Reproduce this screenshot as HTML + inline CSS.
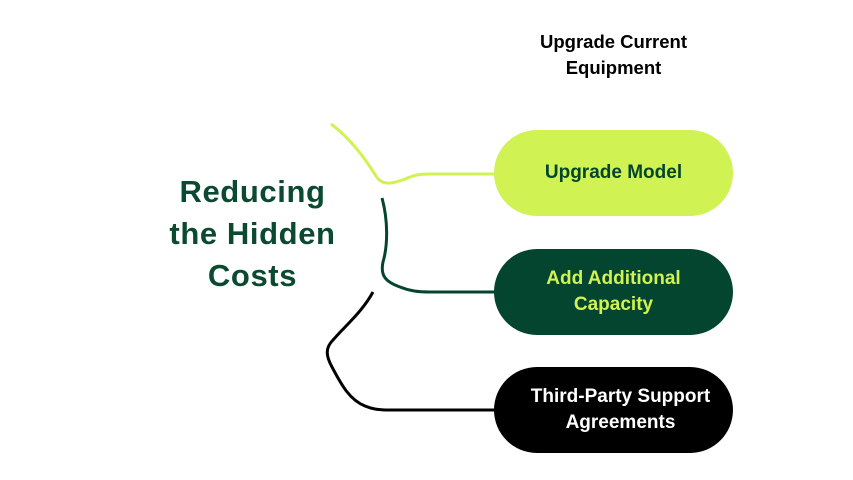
<!DOCTYPE html>
<html><head><style>
html,body{margin:0;padding:0;background:#fff;}
body{width:853px;height:480px;position:relative;overflow:hidden;font-family:"Liberation Sans",sans-serif;font-weight:bold;}
.t{position:absolute;text-align:center;}
.pill{position:absolute;left:494px;width:239px;height:86px;border-radius:43px;display:flex;align-items:center;justify-content:center;text-align:center;font-size:19px;line-height:26px;}
</style></head><body>
<svg width="853" height="480" style="position:absolute;left:0;top:0">
<path d="M331,124 C350,138 366,160 376,176 C382,186 392,184 405,179 C414,175 420,174 430,174 L496,174" fill="none" stroke="#d0f252" stroke-width="3"/>
<path d="M382,198 C388,220 388,245 383,262 C380,276 386,282 400,287 C410,291 418,292 430,292 L496,292" fill="none" stroke="#03452f" stroke-width="3"/>
<path d="M373,292 C362,312 346,325 333,340 C325,348 326,356 332,367 C342,386 350,400 365,406 C372,409 378,410 390,410 L496,410" fill="none" stroke="#000" stroke-width="3"/>
</svg>
<div class="t" style="left:130px;width:245px;top:171px;font-size:31px;line-height:42px;letter-spacing:0.6px;color:#0b4a30;">Reducing<br>the Hidden<br>Costs</div>
<div class="t" style="left:494px;width:239px;top:29px;font-size:18.5px;line-height:26px;color:#000;">Upgrade Current<br>Equipment</div>
<div class="pill" style="top:130px;background:#d0f252;color:#03452f;">Upgrade Model</div>
<div class="pill" style="top:249px;background:#03452f;color:#d0f252;">Add Additional<br>Capacity</div>
<div class="pill" style="top:367px;background:#000;color:#fff;padding-left:14px;box-sizing:border-box;">Third-Party Support<br>Agreements</div>
</body></html>
